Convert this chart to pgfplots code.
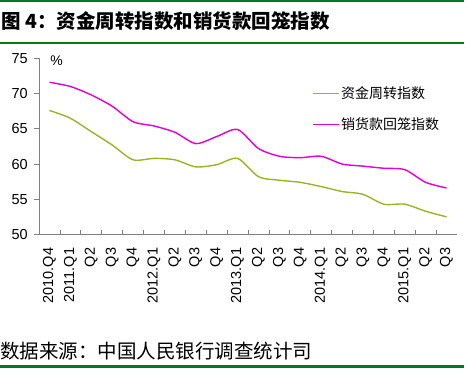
\documentclass[border=0pt]{standalone}
\usepackage{fontspec}
\setmainfont{Liberation Sans}
\newfontfamily\cjk{Noto Sans CJK SC}
\usepackage{pgfplots}
\pgfplotsset{compat=1.18}
\definecolor{rulegreen}{RGB}{0,122,30}
\definecolor{lgreen}{RGB}{158,178,40}
\definecolor{lpink}{RGB}{228,0,210}
\definecolor{axgray}{RGB}{128,128,128}
\begin{document}
\begin{tikzpicture}
\path[use as bounding box] (0,0) rectangle (468pt,368pt);
\fill[rulegreen] (0,366pt) rectangle (464pt,368pt);
\fill[rulegreen] (0,324.3pt) rectangle (464pt,326.3pt);
\fill[rulegreen] (0,0) rectangle (464pt,3pt);
\node[anchor=west,inner sep=0pt] at (1pt,346.5pt) {\cjk\bfseries\fontsize{19.5}{22}\selectfont 图 4：资金周转指数和销货款回笼指数};
\node[anchor=west,inner sep=0pt] at (0pt,17pt) {\cjk\fontsize{19.5}{22}\selectfont 数据来源：中国人民银行调查统计司};
\begin{axis}[
  at={(39pt,133.5pt)}, anchor=south west,
  scale only axis, width=418pt, height=176.2pt,
  xmin=-0.5, xmax=19.5, ymin=50, ymax=75,
  axis x line*=bottom, axis y line*=left,
  axis line style={axgray, line width=0.8pt, -},
  xtick={0,...,19},
  xticklabels={2010.Q4,2011.Q1,Q2,Q3,Q4,2012.Q1,Q2,Q3,Q4,2013.Q1,Q2,Q3,Q4,2014.Q1,Q2,Q3,Q4,2015.Q1,Q2,Q3},
  minor xtick={0.5,1.5,...,18.5},
  ytick={50,55,...,75},
  tick align=inside,
  major tick length=5pt, minor tick length=5pt,
  x tick style={draw=none},
  minor x tick style={draw=axgray, line width=0.8pt},
  y tick style={draw=axgray, line width=0.8pt, xshift=-5pt},
  /pgf/number format/assume math mode=true,
  ticklabel style={font=\fontsize{14.5}{16}\selectfont},
  xticklabel style={rotate=90, anchor=east, inner sep=0pt},
  xticklabel shift=13pt,
  yticklabel style={anchor=east, inner sep=0pt},
  yticklabel shift=11pt,
  legend style={at={(0.645,0.712)}, anchor=west, draw=none, fill=none,
    font=\cjk\fontsize{14}{16}\selectfont, row sep=14pt,
    nodes={inner sep=2pt}},
  legend cell align=left,
  legend image code/.code={\draw[#1] (0pt,0pt) -- (26pt,0pt);},
]
\addplot[lgreen, line width=1.4pt, smooth, tension=0.45] coordinates {
(0,67.6) (1,66.5) (2,64.6) (3,62.7) (4,60.6) (5,60.8) (6,60.6) (7,59.6) (8,59.9) (9,60.8)
(10,58.2) (11,57.7) (12,57.4) (13,56.8) (14,56.1) (15,55.7) (16,54.3) (17,54.3) (18,53.3) (19,52.5)};
\addlegendentry{资金周转指数}
\addplot[lpink, line width=1.4pt, smooth, tension=0.45] coordinates {
(0,71.6) (1,71.0) (2,69.8) (3,68.2) (4,66.0) (5,65.4) (6,64.5) (7,62.9) (8,63.9) (9,64.9)
(10,62.2) (11,61.1) (12,60.9) (13,61.1) (14,60.0) (15,59.7) (16,59.4) (17,59.2) (18,57.4) (19,56.6)};
\addlegendentry{销货款回笼指数}
\end{axis}
\node[inner sep=0pt] at (56.5pt,307pt) {\fontsize{14}{16}\selectfont \%};
\end{tikzpicture}
\end{document}
